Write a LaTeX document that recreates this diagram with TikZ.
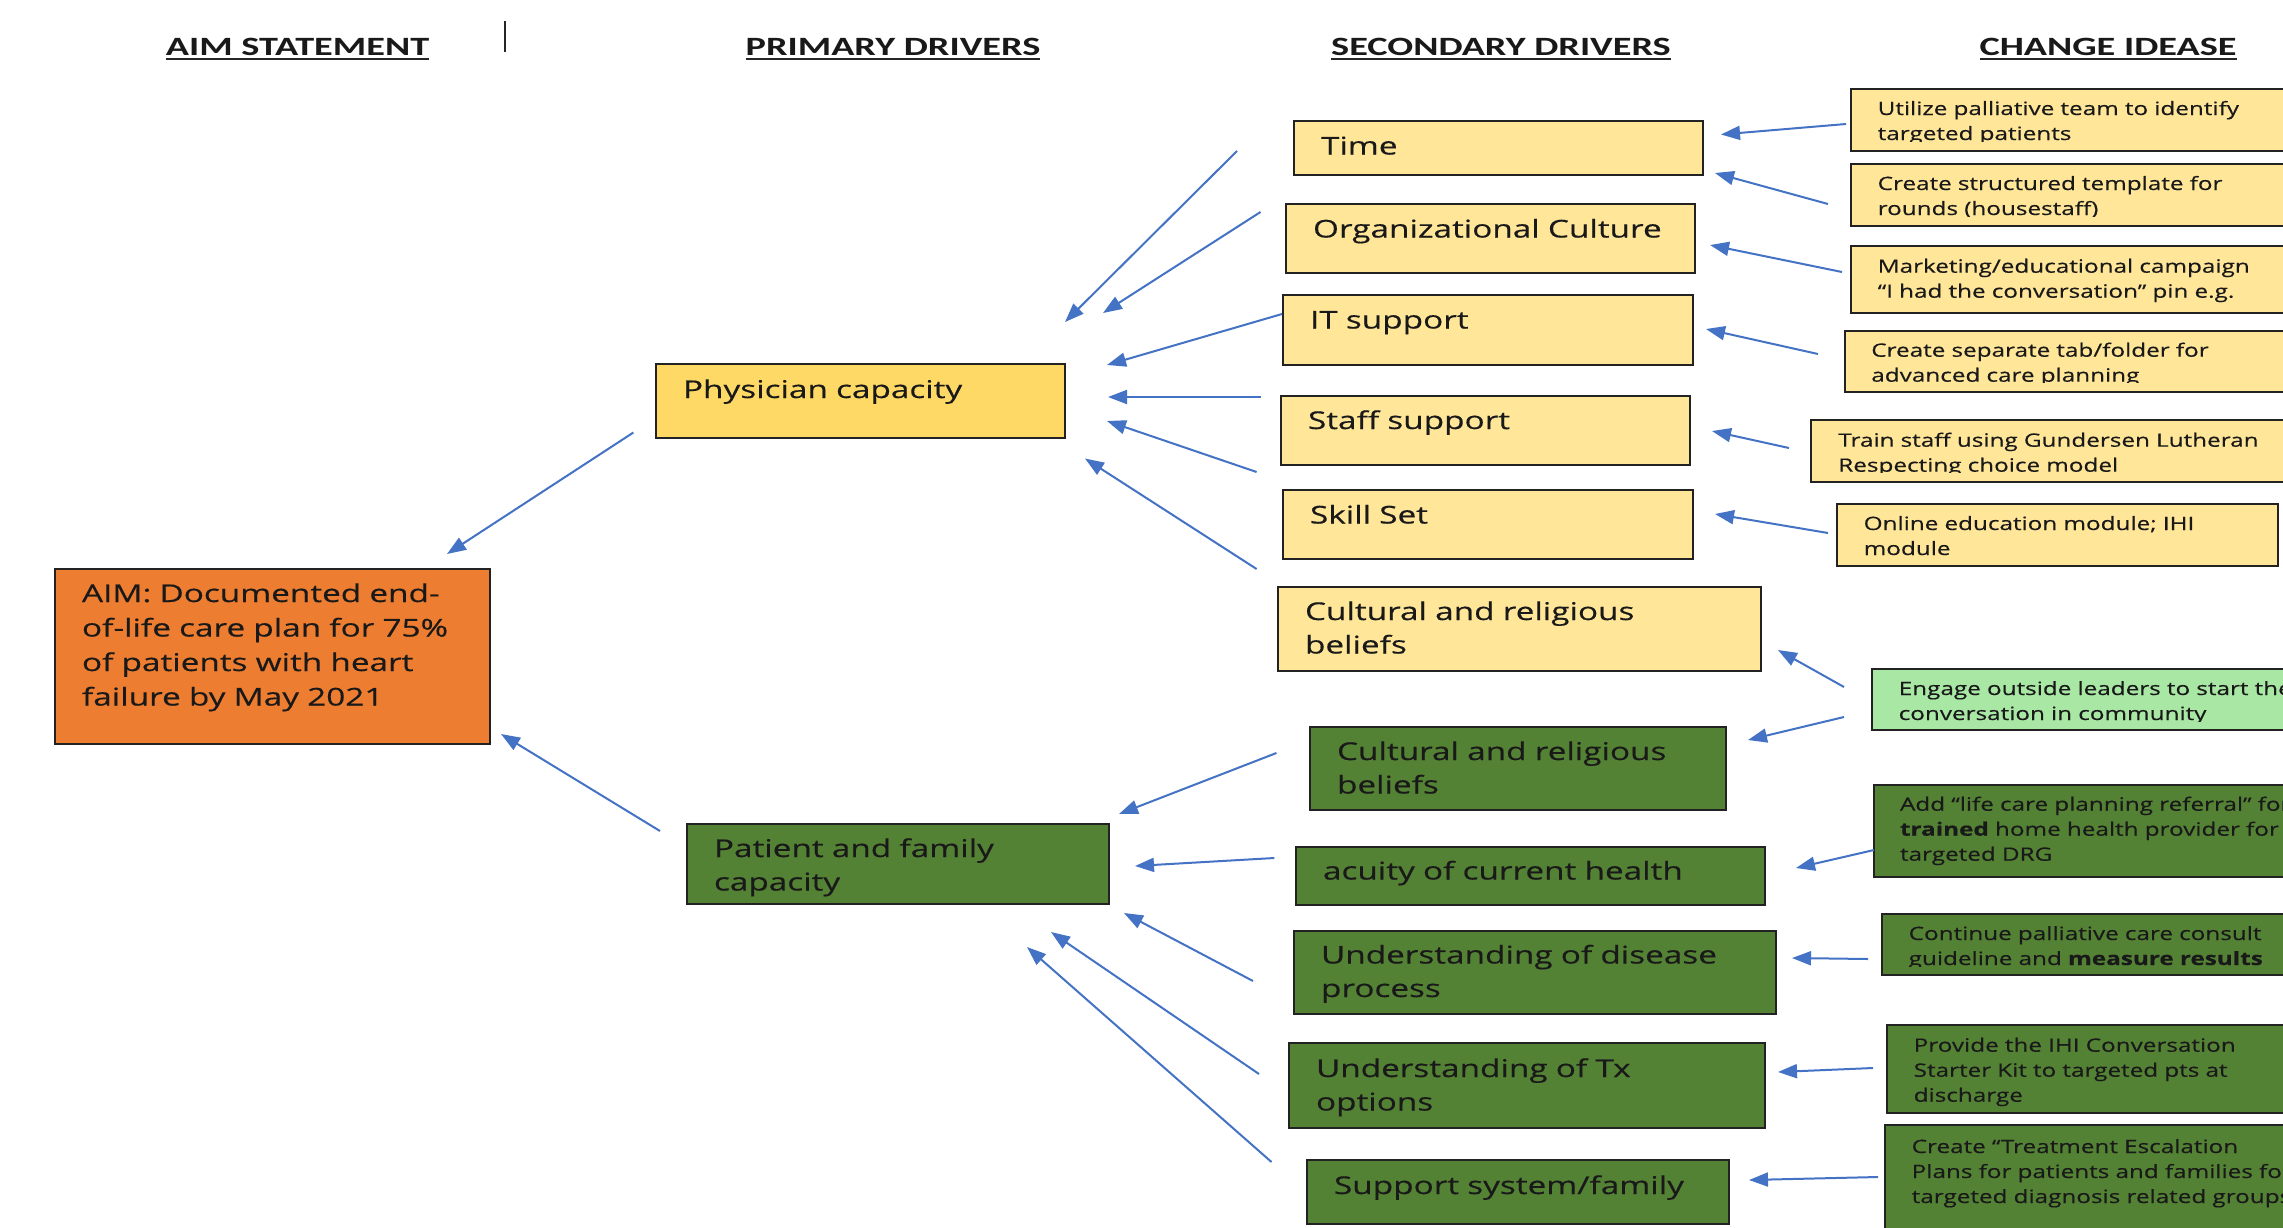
\documentclass[tikz,border=0pt]{standalone}
\usepackage{fontspec}
\setmainfont{Open Sans}[FakeStretch=1.36,FakeBold=0.4]
\newfontfamily\cfont{Open Sans}[FakeStretch=1.32,FakeBold=0.4]
\newfontfamily\hdrfont{Carlito}[FakeStretch=1.45]
\usetikzlibrary{arrows.meta,calc}
\definecolor{secy}{HTML}{FFE699}
\definecolor{physy}{HTML}{FFD966}
\definecolor{dgreen}{HTML}{548235}
\definecolor{lgreen}{HTML}{A8E8A4}
\definecolor{aimorange}{HTML}{ED7D31}
\definecolor{arrblue}{HTML}{4472C4}
\definecolor{bord}{HTML}{222222}
\newcommand\mkbox[6]{\node[#2, minimum width={(#5)-(#3)}, minimum height={(#6)-(#4)}] (#1) at (#3,#4) {};}
\begin{document}
\begin{tikzpicture}[x=1pt,y=-1pt,
  box/.style={draw=bord, line width=2.4pt, inner sep=0pt, outer sep=0pt, anchor=north west},
  ybox/.style={box, fill=secy},
  pbox/.style={box, fill=physy},
  gbox/.style={box, fill=dgreen},
  lgbox/.style={box, fill=lgreen},
  obox/.style={box, fill=aimorange},
  mtxt/.style={inner sep=0pt, outer sep=0pt, anchor=base west, align=left, text width=480pt, text=black!90, font=\fontsize{24.5}{33.5}\selectfont},
  atxt/.style={mtxt, font=\fontsize{24.5}{34.5}\selectfont},
  ctxt/.style={mtxt, font=\cfont\fontsize{18.4}{25}\selectfont},
  hdr/.style={inner sep=0pt, outer sep=0pt, anchor=base, text=black!90, font=\hdrfont\bfseries\fontsize{26.4}{30}\selectfont},
  uline/.style={draw=black!85, line width=2.5pt},
  arr/.style={draw=arrblue, line width=2pt, -{Triangle[length=19pt,width=14pt]}}
]
\useasboundingbox (0,0) rectangle (2283,1227);
\fill[white] (0,0) rectangle (2283,1227);
\clip (0,0) rectangle (2283,1227);

% headers
\node[hdr] (h1) at (297.5,55) {AIM STATEMENT};
\node[hdr] (h2) at (893,55) {PRIMARY DRIVERS};
\node[hdr] (h3) at (1501,55) {SECONDARY DRIVERS};
\node[hdr] (h4) at (2108,55) {CHANGE IDEASE};
\foreach \h in {h1,h2,h3,h4}{\draw[uline] ([shift={(0,4)}]\h.base west) -- ([shift={(0,4)}]\h.base east);}
\draw[draw=black!85, line width=2.7pt] (505,21) -- (505,52);

% boxes
\mkbox{time}{ybox}{1294}{121}{1703}{175}
\mkbox{org}{ybox}{1286}{204}{1695}{273}
\mkbox{it}{ybox}{1283}{295}{1693}{365}
\mkbox{staff}{ybox}{1281}{396}{1690}{465}
\mkbox{skill}{ybox}{1283}{490}{1693}{559}
\mkbox{culty}{ybox}{1278}{587}{1761}{671}
\mkbox{cultg}{gbox}{1310}{727}{1726}{810}
\mkbox{acuity}{gbox}{1296}{847}{1765}{905}
\mkbox{disease}{gbox}{1294}{931}{1776}{1014}
\mkbox{tx}{gbox}{1289}{1043}{1765}{1128}
\mkbox{support}{gbox}{1307}{1160}{1729}{1224}
\mkbox{phys}{pbox}{656}{364}{1065}{438}
\mkbox{patient}{gbox}{687}{824}{1109}{904}
\mkbox{aim}{obox}{55}{569}{490}{744}
\mkbox{c1}{ybox}{1851}{89}{2300}{151}
\mkbox{c2}{ybox}{1851}{164}{2300}{226}
\mkbox{c3}{ybox}{1851}{246}{2300}{313}
\mkbox{c4}{ybox}{1845}{331}{2300}{392}
\mkbox{c5}{ybox}{1811}{420}{2300}{482}
\mkbox{c6}{ybox}{1837}{504}{2278}{566}
\mkbox{c7}{lgbox}{1872}{669}{2300}{730}
\mkbox{c8}{gbox}{1874}{785}{2300}{877}
\mkbox{c9}{gbox}{1882}{914}{2300}{975}
\mkbox{c10}{gbox}{1887}{1025}{2300}{1113}
\mkbox{c11}{gbox}{1885}{1125}{2300}{1240}

% texts: aim and primary
\node[atxt] (aim-t) at ([shift={(27,33)}]aim.north west) {AIM: Documented end-\\of-life care plan for 75\%\\of patients with heart\\failure by May 2021};
\node[mtxt] (phys-t) at ([shift={(27,34)}]phys.north west) {Physician capacity};
\node[mtxt] (patient-t) at ([shift={(27,33)}]patient.north west) {Patient and family\\capacity};

% texts: secondary
\node[mtxt] (time-t) at ([shift={(27,33.5)}]time.north west) {Time};
\node[mtxt] (org-t) at ([shift={(27,33.5)}]org.north west) {Organizational Culture};
\node[mtxt] (it-t) at ([shift={(27,33.5)}]it.north west) {IT support};
\node[mtxt] (staff-t) at ([shift={(27,33)}]staff.north west) {Staff support};
\node[mtxt] (skill-t) at ([shift={(27,33.5)}]skill.north west) {Skill Set};
\node[mtxt] (culty-t) at ([shift={(27,33)}]culty.north west) {Cultural and religious\\beliefs};
\node[mtxt] (cultg-t) at ([shift={(27,33)}]cultg.north west) {Cultural and religious\\beliefs};
\node[mtxt] (acuity-t) at ([shift={(27,32.5)}]acuity.north west) {acuity of current health};
\node[mtxt] (disease-t) at ([shift={(27,32.5)}]disease.north west) {Understanding of disease\\process};
\node[mtxt] (tx-t) at ([shift={(27,34)}]tx.north west) {Understanding of Tx\\options};
\node[mtxt] (support-t) at ([shift={(27,34)}]support.north west) {Support system/family};

% texts: change ideas
\begin{scope}
\clip (c1.north west) rectangle ([shift={(0,52)}]c1.north east);
\node[ctxt] (c1-t) at ([shift={(26.7,26)}]c1.north west) {Utilize palliative team to identify\\targeted patients};
\end{scope}
\begin{scope}
\clip (c2.north west) rectangle ([shift={(0,52)}]c2.north east);
\node[ctxt] (c2-t) at ([shift={(26.7,26)}]c2.north west) {Create structured template for\\rounds (housestaff)};
\end{scope}
\node[ctxt] (c3-t) at ([shift={(26.7,26.7)}]c3.north west) {Marketing/educational campaign\\“I had the conversation” pin e.g.};
\begin{scope}
\clip (c4.north west) rectangle ([shift={(0,51.5)}]c4.north east);
\node[ctxt] (c4-t) at ([shift={(26.3,25.7)}]c4.north west) {Create separate tab/folder for\\advanced care planning};
\end{scope}
\begin{scope}
\clip (c5.north west) rectangle ([shift={(0,52.5)}]c5.north east);
\node[ctxt] (c5-t) at ([shift={(27.3,26.7)}]c5.north west) {Train staff using Gundersen Lutheran\\Respecting choice model};
\end{scope}
\node[ctxt] (c6-t) at ([shift={(26.7,26)}]c6.north west) {Online education module; IHI\\module};
\begin{scope}
\clip (c7.north west) rectangle ([shift={(0,52)}]c7.north east);
\node[ctxt] (c7-t) at ([shift={(26.7,26)}]c7.north west) {Engage outside leaders to start the\\conversation in community};
\end{scope}
\node[ctxt] (c8-t) at ([shift={(26,25.7)}]c8.north west) {Add “life care planning referral” for\\\textbf{trained} home health provider for\\targeted DRG};
\begin{scope}
\clip (c9.north west) rectangle ([shift={(0,52)}]c9.north east);
\node[ctxt] (c9-t) at ([shift={(26.7,26)}]c9.north west) {Continue palliative care consult\\guideline and \textbf{measure results}};
\end{scope}
\node[ctxt] (c10-t) at ([shift={(26.7,26.7)}]c10.north west) {Provide the IHI Conversation\\Starter Kit to targeted pts at\\discharge};
\node[ctxt] (c11-t) at ([shift={(26.7,28)}]c11.north west) {Create “Treatment Escalation\\Plans for patients and families for\\targeted diagnosis related groups};

% arrows: change ideas -> secondary drivers
\draw[arr] ([shift={(-5,35)}]c1.north west) -- ([shift={(18,13.5)}]time.north east);
\draw[arr] ([shift={(-23,40)}]c2.north west) -- ([shift={(12,52)}]time.north east);
\draw[arr] ([shift={(-9,26)}]c3.north west) -- ([shift={(15,41)}]org.north east);
\draw[arr] ([shift={(-27,23)}]c4.north west) -- ([shift={(13,34)}]it.north east);
\draw[arr] ([shift={(-22,28)}]c5.north west) -- ([shift={(22,35)}]staff.north east);
\draw[arr] ([shift={(-9,29)}]c6.north west) -- ([shift={(22,24)}]skill.north east);
\draw[arr] ([shift={(-28,18)}]c7.north west) -- ([shift={(17,63)}]culty.north east);
\draw[arr] ([shift={(-28,48)}]c7.north west) -- ([shift={(22,13)}]cultg.north east);
\draw[arr] ([shift={(0,65)}]c8.north west) -- ([shift={(31,21)}]acuity.north east);
\draw[arr] ([shift={(-14,45)}]c9.north west) -- ([shift={(16,27)}]disease.north east);
\draw[arr] ([shift={(-14,43)}]c10.north west) -- ([shift={(13,29)}]tx.north east);
\draw[arr] ([shift={(-7,52)}]c11.north west) -- ([shift={(20,20)}]support.north east);

% arrows: secondary -> physician capacity
\draw[arr] ([shift={(-57,30)}]time.north west) -- ([shift={(0,-42)}]phys.north east);
\draw[arr] ([shift={(-25.5,8)}]org.north west) -- ([shift={(38,-51)}]phys.north east);
\draw[arr] ([shift={(-1,19)}]it.north west) -- ([shift={(42,1)}]phys.north east);
\draw[arr] ([shift={(-20.5,1)}]staff.north west) -- ([shift={(43,33)}]phys.north east);
\draw[arr] ([shift={(-26.4,-18)}]skill.north west) -- ([shift={(42,57)}]phys.north east);
\draw[arr] ([shift={(-21.4,-18)}]culty.north west) -- ([shift={(20,94.5)}]phys.north east);

% arrows: secondary -> patient and family capacity
\draw[arr] ([shift={(-33.6,26)}]cultg.north west) -- ([shift={(10,-10)}]patient.north east);
\draw[arr] ([shift={(-21.7,11)}]acuity.north west) -- ([shift={(26,42)}]patient.north east);
\draw[arr] ([shift={(-41,50)}]disease.north west) -- ([shift={(15,89)}]patient.north east);
\draw[arr] ([shift={(-30,31)}]tx.north west) -- ([shift={(-58,108)}]patient.north east);
\draw[arr] ([shift={(-35.5,2)}]support.north west) -- ([shift={(-82,123)}]patient.north east);

% arrows: primary -> aim
\draw[arr] ([shift={(-22.6,68.5)}]phys.north west) -- ([shift={(-43,-15)}]aim.north east);
\draw[arr] ([shift={(-27,7)}]patient.north west) -- ([shift={(11,165)}]aim.north east);
\end{tikzpicture}
\end{document}
